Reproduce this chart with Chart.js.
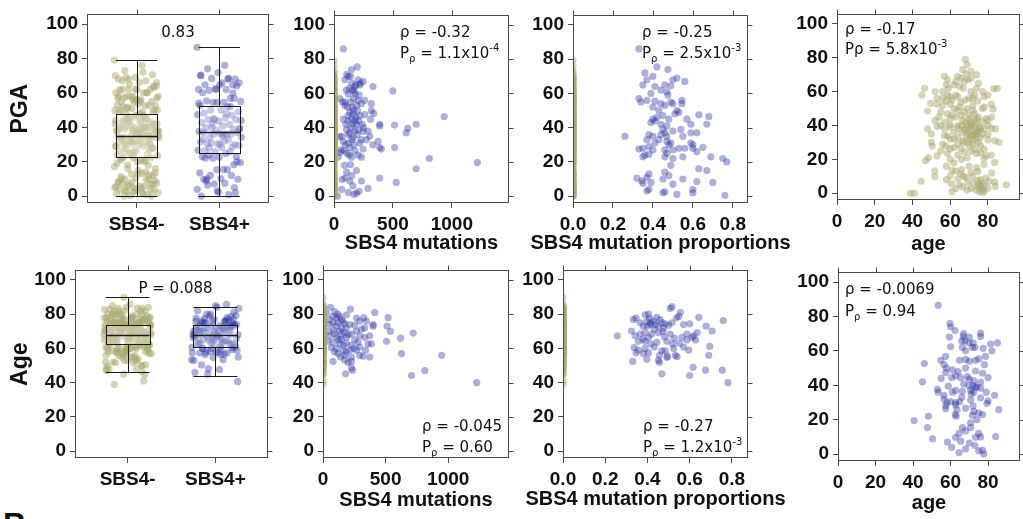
<!DOCTYPE html>
<html>
<head>
<meta charset="utf-8">
<script src="https://cdn.jsdelivr.net/npm/chart.js@4.4.1/dist/chart.umd.min.js"></script>
<style>
  body { margin: 0; background: #fff; }
  #stage { position: relative; width: 1023px; height: 519px; overflow: hidden; background: #fff; }
  #stage canvas { position: absolute; }
  #panelB { position: absolute; left: 3px; top: 508px; font: bold 32px "Liberation Sans", Arial, sans-serif; line-height: 32px; color: #111; }
</style>
</head>
<body>
<div id="stage"><div id="panelB">B</div></div>
<script>
// ---- data ----
const groupLabels = ['SBS4-', 'SBS4+'];
const yTicks = [0, 20, 40, 60, 80, 100];
const mutTicks = [0, 500, 1000];
const propTicks = [0, 0.2, 0.4, 0.6, 0.8];
const ageTicks = [0, 20, 40, 60, 80];

// box stats: [lower whisker, q1, median, q3, upper whisker]
const pgaBox = [[0, 23, 35, 47.5, 79], [0, 25, 37, 52.5, 86.5]];
const ageBox = [[46, 62.5, 68, 73.5, 90], [44, 61, 68, 73.5, 84]];

// SBS4- samples: [age, PGA]
const negAgePga = [[68,79],[69,76],[66.6,73],[68.4,70.5],[57,69],[65.7,68],[69.3,67],[71,68],[63,66],[67.5,66],[58.6,67],[46.4,62],[45,58],[52,60],[56,60],[58.6,58],[65,63],[74,62],[83,61.7],[77.3,60],[80,58],[73,58],[70,56],[64,57],[61,55],[57.7,54.5],[49.6,53],[53,52.6],[56,51.7],[60,52.6],[65.7,53.6],[74.6,54.5],[81.8,52.6],[78,50.8],[82.7,49.8],[72,48.9],[67.5,48],[64,48.9],[58.6,47],[48,48.5],[54,45],[60,44],[57,42],[66.6,43],[74,44],[80,43],[81.8,38.5],[48,38],[53,39.5],[60,40.4],[64,38.5],[67.5,37.6],[71,39.5],[74.6,36.7],[73,34.8],[69.3,35.3],[71,33.8],[75.5,39],[77.3,34.8],[74,32],[80,34.8],[83.6,31],[80,31.6],[58.6,33.8],[60,32],[64,32.9],[66.6,31],[69.3,30],[72,29],[64,29],[57.7,27.8],[50.5,27.8],[60,26.3],[65.7,26.3],[67.5,24.4],[71,24.8],[74,23.5],[77.9,20.7],[81.8,22.5],[64,22.5],[58.6,23.5],[47,19.2],[48.4,21],[83.6,18.2],[61,13.5],[63,13],[65.7,11.3],[71,12.2],[74.6,12.8],[77.9,17],[51.8,13.2],[51.8,9.8],[44.6,7],[60,10.3],[64,8.5],[68.4,9.4],[69.3,6.6],[74.6,7.5],[77.3,6],[80.7,7],[83.6,6.6],[89.8,5],[60.7,5.6],[61,1],[63,2.8],[66.6,3.8],[71,2.8],[74.6,3.8],[75.5,1],[77.3,0.4],[73.7,1.9],[78,4.7],[39,0],[41,0],
  [72.5,40],[71.5,38],[74,41],[73,43],[76,38],[70,37],[68.5,34],[76,33],[72,31.5],[70.5,42],[73.5,36],[75,30],[77,42],[62,36],[66,40],[63,45],[70,46],[62,50],[68,55],[72,52],[76,4],[77,2.5],[78,1.5],[75,5.5],[72,6],[79,9],[66,20],[69,21],[62,18],[55,25],[57,34],[55,40],[78,26],[76,28],[84,4],[58,8],[66,14],[67,62],[62,64],[60,39],[85,62],[50,35],[56,56],
  [70,44],[73,47],[75,45],[68,42],[66,36],[62,32],[64,40],[70,32],[78,38],[79,44],[67,30],[70,28],[73,26],[76,24],[60,20],[58,16],[70,16],[74,15],[67,10],[72,10],[76,8],[65,5],[69,2],[80,3],[82,12],[59,62],[63,58],[71,60],[75,65],[78,57],[55,48],[52,43],[50,30],[53,22],[56,29],[61,46],[65,51],[69,50],[72,56],[77,50],[74,35],[71,41],[68,38],[75,37],[72,34],[69,40],[66,46],[60,57],[80,40],[82,45],[84,38],[86,30],[79,22],[62,27],[57,38],[74,70],[71,72],[64,69],[58,64],[53,56]];

// SBS4+ samples: [age, PGA]
const posAgePga = [[53.4,86.5],[59.7,76],[60,74],[59.4,68],[62.4,71.8],[76,70.3],[76,68.4],[66.8,68.4],[66,65.8],[67.7,65.8],[69.8,64.7],[72,64.7],[60,62.4],[66.3,62],[71.6,62],[77.4,61.5],[81.3,64],[85,64.7],[82,60],[57.4,56.8],[64.8,54.5],[68,55],[73.3,54.5],[75,55.3],[78.6,56.8],[54.8,54.5],[46,52.6],[56.5,52],[57.8,50],[61,49],[68,50],[73.3,48.3],[77,47],[80,44.5],[57.4,47.4],[62.7,45.5],[65.4,44.5],[60.6,44.5],[70,43.6],[72.4,42.7],[76,41.7],[45,42],[58.8,39.5],[67,40.8],[69.8,39.8],[73.3,38.9],[76,38.3],[53,37.6],[53.4,36],[56.5,34.2],[62.7,37],[66.3,36.5],[70.7,37],[72.4,36],[79,36],[83.4,34.2],[56.5,32],[60,30.5],[62.7,30],[64.8,30.5],[70.7,31.4],[76,32.7],[80,31],[79.4,29.5],[57.4,28.2],[57.4,26.3],[62.7,28.6],[63.4,25.8],[68,26.7],[72.4,24.8],[75,23.9],[77,23],[71.6,22.6],[62.5,23],[85.7,25.8],[48.2,22],[40.6,19.5],[47.7,15.4],[50.4,8.8],[70.7,18.2],[66.3,15.4],[68,13.5],[70.7,15.4],[75,12],[73.3,9.8],[84,10.2],[62.7,9.8],[64.5,12],[58.3,7],[60.6,4],[65.4,7.5],[70,6.4],[75,1.9],[77,2.3],[77.7,0],[64.5,0.9],
  [72,40],[74,39],[71,35],[63,22],[68,60],[73,62],[70,54],[64,48],[72,28],[74,20],[58,30],[66,33],[78,52],[69,45],[55,44],[61,36],[76,10],[73,5],[68,3],[67,70],[70,68]];

// SBS4+ : [mutations, PGA]
const mutPga = [[79,86],[197,75.5],[149,74],[107,71],[121,70],[93,68],[205,68],[247,67],[225,66],[219,65],[177,64],[331,64],[500,61.5],[157,62],[169,61.5],[121,59.6],[213,59],[51,57],[93,55],[73,55],[233,54],[317,54],[93,53],[191,53],[317,50],[337,48.4],[135,49],[163,48],[261,47.7],[219,47],[935,46.5],[79,45],[149,45],[121,44],[177,44],[388,42],[514,41.5],[697,42],[627,39.6],[613,37],[388,41],[205,38.7],[247,37.8],[107,39],[135,36.8],[65,35],[45,34.6],[197,36],[303,35],[163,34],[79,32],[275,33],[374,32],[219,31],[121,31],[135,28.4],[388,28.4],[514,28.4],[402,27.5],[247,27.5],[177,26.5],[51,25.6],[84,26.5],[37,23],[149,22.8],[233,22.8],[809,22],[205,24],[1216,19.6],[697,16],[140,18.5],[191,15],[107,14],[388,10.6],[93,10.6],[70,9.7],[135,8.8],[233,8.8],[528,8],[65,4],[289,4.5],[191,1.7],[213,2.8],[169,1],[121,2.2],[30,0],
  [140,55],[155,52],[165,57],[180,60],[130,63],[150,66],[200,50],[210,44],[145,40],[160,42],[175,38],[185,46],[120,36],[100,42],[95,30],[110,25],[130,24],[170,30],[230,33],[250,40],[260,56],[140,70],[105,62],[185,65],[205,56],[115,52],[60,27],[150,12],[160,6],[90,18],[240,42],[290,38],[330,30],[310,45],[120,47],[165,50],[190,42],[150,33]];

// SBS4+ : [mutation proportion, PGA]
const propPga = [[0.33,86],[0.42,75.5],[0.475,74],[0.36,72],[0.4,70],[0.5,68],[0.52,69],[0.56,67],[0.37,68],[0.46,65],[0.35,65],[0.41,64],[0.49,64.5],[0.44,62],[0.47,61],[0.39,60],[0.475,59],[0.33,57],[0.37,56],[0.34,55],[0.41,55.5],[0.49,55],[0.545,56],[0.545,54],[0.44,54],[0.46,53],[0.5,54],[0.52,50],[0.51,48],[0.53,49],[0.4,52],[0.43,50],[0.45,47],[0.42,46],[0.48,45],[0.4,45],[0.41,44],[0.39,43],[0.44,42],[0.57,45],[0.59,42],[0.63,47.5],[0.68,46.5],[0.67,42],[0.47,41],[0.45,39],[0.5,38],[0.54,39],[0.46,37],[0.44,36],[0.4,35],[0.38,36],[0.26,35],[0.47,35],[0.55,35],[0.59,37],[0.62,37],[0.43,33],[0.47,32],[0.49,31],[0.37,33],[0.41,31],[0.48,30],[0.6,30],[0.59,31],[0.35,28],[0.33,27.5],[0.38,29],[0.4,27],[0.46,27],[0.53,28],[0.56,28],[0.5,27],[0.62,26],[0.65,28.5],[0.6,28],[0.36,24],[0.38,24.5],[0.35,23],[0.47,25],[0.46,23],[0.5,22],[0.55,23],[0.69,23],[0.75,22],[0.77,20],[0.49,18],[0.63,16],[0.67,15],[0.46,14],[0.38,13],[0.32,10.5],[0.345,9],[0.37,11],[0.45,10],[0.55,10],[0.35,7.5],[0.62,8.5],[0.7,8],[0.5,7],[0.38,4],[0.37,3],[0.46,2.5],[0.45,2],[0.6,4],[0.6,2],[0.52,1],[0.76,0.5],[0.39,8],[0.48,12]];

// SBS4+ : [mutations, age]
const mutAge = [[59,84],[219,83],[93,81.5],[120,80],[187,79.7],[27,80.6],[325,78],[413,81],[520,78],[48,76.8],[147,76.8],[267,77.8],[80,75],[120,75],[173,74.4],[213,74],[253,73.6],[400,73],[512,73],[400,74],[333,72],[539,70],[720,69],[48,70],[85,70.6],[133,70.2],[173,69.3],[227,68.4],[293,67.4],[373,67.4],[53,67.4],[107,66.5],[147,65.5],[187,66.5],[253,65],[333,66.5],[619,66],[507,64.2],[40,64.2],[80,63.6],[133,62.7],[187,63],[227,61.8],[360,62.7],[293,60.8],[387,62.7],[67,60.5],[107,60],[160,59],[213,59],[267,59],[341,59],[627,57],[947,56],[120,57],[173,56],[227,55],[320,55.5],[373,55],[80,52.4],[173,53.3],[200,51.8],[227,52.4],[293,56],[181,45.2],[227,48.6],[235,47.3],[813,47],[707,44.2],[1227,40],
  [80,78.7],[107,77.8],[133,78.7],[160,75.9],[107,73],[147,72],[187,71.8],[93,68.4],[147,68.4],[200,68],[128,65],[165,61.8],[93,58],[139,55],[187,58],[245,60],[280,63.6],[53,74],[293,76],[347,76],[307,71.2],[267,70.2]];

// SBS4+ : [mutation proportion, age]
const propAge = [[0.257,67.4],[0.325,70.2],[0.333,76.8],[0.346,77.8],[0.365,75],[0.38,73],[0.389,79.7],[0.405,80],[0.41,77.4],[0.444,78.2],[0.416,75],[0.4,73],[0.432,71.2],[0.452,73],[0.468,75],[0.484,74.4],[0.476,72],[0.5,73.6],[0.516,75],[0.508,83.4],[0.516,84.4],[0.537,77.8],[0.556,81],[0.548,78.7],[0.571,74],[0.6,74.4],[0.643,78.2],[0.678,73],[0.706,70.2],[0.759,76.3],[0.341,67.4],[0.365,68.4],[0.389,69.3],[0.42,68.4],[0.452,69.3],[0.48,66.8],[0.508,68.4],[0.527,66],[0.563,66.5],[0.587,68.4],[0.619,67.4],[0.635,69.3],[0.611,66.5],[0.627,65],[0.357,64.2],[0.389,64.2],[0.416,62.7],[0.444,63.6],[0.492,64.2],[0.52,62.7],[0.552,63],[0.587,65],[0.337,60.5],[0.357,59],[0.389,60],[0.432,60.8],[0.468,58.6],[0.484,58.6],[0.524,60],[0.571,60.8],[0.595,59],[0.695,61.2],[0.346,57.4],[0.381,57],[0.405,57.4],[0.457,56],[0.495,55.5],[0.532,56],[0.54,55.2],[0.69,56],[0.33,52.4],[0.397,53.7],[0.452,53],[0.457,51.8],[0.492,54.8],[0.468,45.2],[0.616,49],[0.6,44.2],[0.675,47.3],[0.754,47.3],[0.781,40],
  [0.413,74],[0.429,75.9],[0.397,75.9],[0.46,76.8],[0.437,74],[0.473,69.9],[0.378,65.5],[0.405,66.5]];

// ---- styling ----
const khaki = 'rgba(170,170,112,0.5)';
const blue = 'rgba(38,48,160,0.38)';
const frameColor = '#4a4a4a';
const tickFont = { family: '"Liberation Sans", Arial, sans-serif', size: 19, weight: 'bold' };
const yTitleFont = { family: '"Liberation Sans", Arial, sans-serif', size: 23, weight: 'bold' };
const xTitleFont = 'bold 20px "Liberation Sans", Arial, sans-serif';
const noteFont = '15px "DejaVu Sans", Verdana, sans-serif';
const smallFont = '10px "DejaVu Sans", Verdana, sans-serif';

const stage = document.getElementById('stage');
const negPga = negAgePga.map(p => p[1]);
const negAge = negAgePga.map(p => p[0]);
const posPga = posAgePga.map(p => p[1]);
const posAge = posAgePga.map(p => p[0]);

// horizontal jitter for the strip points around a box
const jit = i => (((i * 0.6180339887) % 1) - 0.5) * 0.54;
const strip = (vals, pos) => vals.map((v, i) => ({ x: pos + jit(i), y: v }));
const pts = arr => arr.map(p => ({ x: p[0], y: p[1] }));
const atZero = vals => vals.map(v => ({ x: 0, y: v }));

function drawParts(ctx, x, y, parts, align) {
  let total = 0;
  parts.forEach(p => { ctx.font = p[1] === 'n' ? noteFont : smallFont; total += ctx.measureText(p[0]).width; });
  let cx = align === 'center' ? x - total / 2 : x;
  parts.forEach(p => {
    ctx.font = p[1] === 'n' ? noteFont : smallFont;
    const dy = p[1] === 'sub' ? 5 : p[1] === 'sup' ? -6 : 0;
    ctx.fillText(p[0], cx, y + dy);
    cx += ctx.measureText(p[0]).width;
  });
}

const framePlugin = {
  id: 'frame',
  afterDraw(chart, args, opts) {
    const { ctx, chartArea: a, scales: { x, y } } = chart;
    ctx.save();
    ctx.strokeStyle = frameColor;
    ctx.lineWidth = 1;
    const l = Math.round(a.left) + 0.5, r = Math.round(a.right) - 0.5;
    const t = Math.round(a.top) + 0.5, b = Math.round(a.bottom) - 0.5;
    ctx.strokeRect(l, t, r - l, b - t);
    ctx.beginPath();
    x.ticks.forEach(tk => {
      const px = Math.round(x.getPixelForValue(tk.value)) + 0.5;
      ctx.moveTo(px, t); ctx.lineTo(px, t - 5);
    });
    y.ticks.forEach(tk => {
      const py = Math.round(y.getPixelForValue(tk.value)) + 0.5;
      ctx.moveTo(r, py); ctx.lineTo(r + 5, py);
    });
    ctx.stroke();

    // boxes
    (opts.boxes || []).forEach(bx => {
      const s = bx.stats;
      const x0 = x.getPixelForValue(bx.pos - 0.25), x1 = x.getPixelForValue(bx.pos + 0.25);
      const xc = Math.round(x.getPixelForValue(bx.pos)) + 0.5;
      const py = v => Math.round(y.getPixelForValue(v)) + 0.5;
      ctx.fillStyle = 'rgba(255,255,255,0.3)';
      ctx.fillRect(x0, py(s[3]), x1 - x0, py(s[1]) - py(s[3]));
      ctx.strokeStyle = '#1a1a1a';
      ctx.lineWidth = 1;
      ctx.strokeRect(Math.round(x0) + 0.5, py(s[3]), Math.round(x1 - x0), py(s[1]) - py(s[3]));
      ctx.beginPath();
      ctx.moveTo(xc, py(s[3])); ctx.lineTo(xc, py(s[4]));
      ctx.moveTo(xc, py(s[1])); ctx.lineTo(xc, py(s[0]));
      ctx.moveTo(x0, py(s[4])); ctx.lineTo(x1, py(s[4]));
      ctx.moveTo(x0, py(s[0])); ctx.lineTo(x1, py(s[0]));
      ctx.stroke();
      ctx.lineWidth = 1.6;
      ctx.beginPath();
      ctx.moveTo(x0, py(s[2])); ctx.lineTo(x1, py(s[2]));
      ctx.stroke();
    });

    ctx.fillStyle = '#111';
    ctx.textBaseline = 'middle';
    // x-axis title, drawn without width squeeze
    if (opts.xTitle) {
      ctx.font = xTitleFont;
      ctx.textAlign = 'center';
      ctx.fillText(opts.xTitle, (a.left + a.right) / 2, a.bottom + opts.titleDy);
      ctx.textAlign = 'left';
    }
    // annotation text
    (opts.notes || []).forEach(n => {
      const nx = n.align === 'center' ? (a.left + a.right) / 2 + n.dx : a.left + n.dx;
      drawParts(ctx, nx, a.top + n.dy, n.parts, n.align);
    });
    ctx.restore();
  }
};

function makePanel(frame, cfg) {
  const padL = cfg.padL, padT = 8, padR = 45, padB = 60;
  const W = (frame.r - frame.l) + padL + padR;
  const H = (frame.b - frame.t) + padT + padB;
  const cv = document.createElement('canvas');
  cv.width = W; cv.height = H;
  cv.style.left = (frame.l - padL) + 'px';
  cv.style.top = (frame.t - padT) + 'px';
  cv.style.width = W + 'px';
  cv.style.height = H + 'px';
  stage.appendChild(cv);

  new Chart(cv, {
    type: 'scatter',
    data: { datasets: cfg.datasets.map(d => ({
      data: d.data, backgroundColor: d.color, borderWidth: 0,
      pointRadius: 3.6, pointHoverRadius: 3.6, clip: 0
    })) },
    options: {
      responsive: false,
      animation: false,
      devicePixelRatio: 1,
      events: [],
      layout: { padding: { left: 0, top: padT, right: padR, bottom: 0 } },
      plugins: {
        legend: { display: false },
        tooltip: { enabled: false },
        frame: { boxes: cfg.boxes, notes: cfg.notes, xTitle: cfg.xTitle, titleDy: cfg.titleDy }
      },
      scales: {
        x: {
          type: 'linear',
          min: cfg.xRange[0], max: cfg.xRange[1],
          afterBuildTicks: s => { s.ticks = cfg.xTicks.map(v => ({ value: v })); },
          afterFit: s => { s.height = padB; },
          ticks: { autoSkip: false, maxRotation: 0, padding: 5, color: '#111', font: tickFont, callback: cfg.xFmt },
          grid: { drawOnChartArea: false, tickLength: 5, color: frameColor },
          border: { display: false }
        },
        y: {
          type: 'linear',
          min: -4, max: 105.6,
          afterBuildTicks: s => { s.ticks = yTicks.map(v => ({ value: v })); },
          afterFit: s => { s.width = padL; },
          ticks: { padding: 4, color: '#111', font: tickFont, callback: v => String(v) },
          grid: { drawOnChartArea: false, tickLength: 5, color: frameColor },
          border: { display: false },
          title: cfg.yTitle
            ? { display: true, text: cfg.yTitle, color: '#111', font: yTitleFont, padding: { top: 7, bottom: 0 } }
            : { display: false }
        }
      }
    },
    plugins: [framePlugin]
  });
}

const catFmt = v => groupLabels[v - 1];
const numFmt = v => String(v);
const propFmt = v => v.toFixed(1);

// ---- row 1: PGA ----
makePanel({ l: 87, t: 7, r: 269, b: 203 }, {
  padL: 87, xRange: [0.4, 2.6], xTicks: [1, 2], xFmt: catFmt, yTitle: 'PGA',
  datasets: [{ data: strip(negPga, 1), color: khaki }, { data: strip(posPga, 2), color: blue }],
  boxes: [{ pos: 1, stats: pgaBox[0] }, { pos: 2, stats: pgaBox[1] }],
  notes: [{ dx: 0, dy: 19, align: 'center', parts: [['0.83', 'n']] }]
});
makePanel({ l: 334, t: 8, r: 509, b: 203 }, {
  padL: 60, xRange: [0, 1485], xTicks: mutTicks, xFmt: numFmt, xTitle: 'SBS4 mutations', titleDy: 40,
  datasets: [{ data: atZero(negPga), color: khaki }, { data: pts(mutPga), color: blue }],
  notes: [
    { dx: 66, dy: 18, parts: [['ρ = -0.32', 'n']] },
    { dx: 66, dy: 39, parts: [['P', 'n'], ['ρ', 'sub'], [' = 1.1x10', 'n'], ['-4', 'sup']] }
  ]
});
makePanel({ l: 573, t: 8, r: 748, b: 203 }, {
  padL: 60, xRange: [0, 0.876], xTicks: propTicks, xFmt: propFmt, xTitle: 'SBS4 mutation proportions', titleDy: 40,
  datasets: [{ data: atZero(negPga), color: khaki }, { data: pts(propPga), color: blue }],
  notes: [
    { dx: 69, dy: 18, parts: [['ρ = -0.25', 'n']] },
    { dx: 69, dy: 39, parts: [['P', 'n'], ['ρ', 'sub'], [' = 2.5x10', 'n'], ['-3', 'sup']] }
  ]
});
makePanel({ l: 837, t: 7, r: 1020, b: 200 }, {
  padL: 60, xRange: [0, 97], xTicks: ageTicks, xFmt: numFmt, xTitle: 'age', titleDy: 44,
  datasets: [{ data: pts(negAgePga), color: khaki }],
  notes: [
    { dx: 8, dy: 16, parts: [['ρ = -0.17', 'n']] },
    { dx: 8, dy: 36, parts: [['Pρ = 5.8x10', 'n'], ['-3', 'sup']] }
  ]
});

// ---- row 2: Age ----
makePanel({ l: 75, t: 263, r: 268, b: 458 }, {
  padL: 75, xRange: [0.4, 2.6], xTicks: [1, 2], xFmt: catFmt, yTitle: 'Age',
  datasets: [{ data: strip(negAge, 1), color: khaki }, { data: strip(posAge, 2), color: blue }],
  boxes: [{ pos: 1, stats: ageBox[0] }, { pos: 2, stats: ageBox[1] }],
  notes: [{ dx: 4, dy: 19, align: 'center', parts: [['P = 0.088', 'n']] }]
});
makePanel({ l: 323, t: 263, r: 509, b: 458 }, {
  padL: 60, xRange: [0, 1485], xTicks: mutTicks, xFmt: numFmt, xTitle: 'SBS4 mutations', titleDy: 42,
  datasets: [{ data: atZero(negAge), color: khaki }, { data: pts(mutAge), color: blue }],
  notes: [
    { dx: 99, dy: 157, parts: [['ρ = -0.045', 'n']] },
    { dx: 99, dy: 178, parts: [['P', 'n'], ['ρ', 'sub'], [' = 0.60', 'n']] }
  ]
});
makePanel({ l: 563, t: 263, r: 748, b: 458 }, {
  padL: 60, xRange: [0, 0.876], xTicks: propTicks, xFmt: propFmt, xTitle: 'SBS4 mutation proportions', titleDy: 41,
  datasets: [{ data: atZero(negAge), color: khaki }, { data: pts(propAge), color: blue }],
  notes: [
    { dx: 80, dy: 157, parts: [['ρ = -0.27', 'n']] },
    { dx: 80, dy: 178, parts: [['P', 'n'], ['ρ', 'sub'], [' = 1.2x10', 'n'], ['-3', 'sup']] }
  ]
});
makePanel({ l: 838, t: 265, r: 1020, b: 461 }, {
  padL: 60, xRange: [0, 97], xTicks: ageTicks, xFmt: numFmt, xTitle: 'age', titleDy: 42,
  datasets: [{ data: pts(posAgePga), color: blue }],
  notes: [
    { dx: 7, dy: 18, parts: [['ρ = -0.0069', 'n']] },
    { dx: 7, dy: 40, parts: [['P', 'n'], ['ρ', 'sub'], [' = 0.94', 'n']] }
  ]
});
</script>
</body>
</html>
